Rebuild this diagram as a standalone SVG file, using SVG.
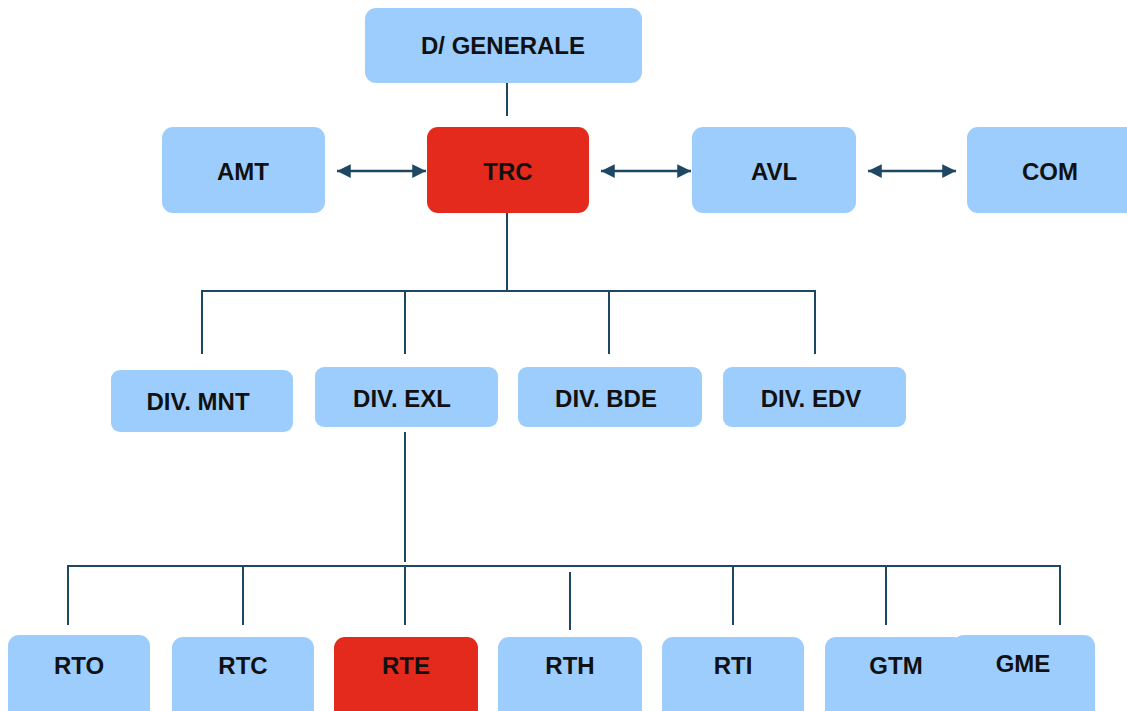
<svg xmlns="http://www.w3.org/2000/svg" width="1127" height="711" viewBox="0 0 1127 711">
  <style>
    .box { fill: #9dcdfd; }
    .hot { fill: #e32a1c; }
    .lbl { font-family: "Liberation Sans", Arial, sans-serif; font-weight: bold; font-size: 24px; fill: #111; text-anchor: middle; }
    .wire { stroke: #1d4763; stroke-width: 2; fill: none; }
    .link { stroke: #1d4763; stroke-width: 2.5; fill: none; marker-start: url(#head); marker-end: url(#head); }
  </style>
  <defs>
    <marker id="head" viewBox="0 0 10 10" refX="10" refY="5" markerWidth="6" markerHeight="5.5" orient="auto-start-reverse" markerUnits="strokeWidth">
      <path d="M0,0 L10,5 L0,10 Z" fill="#1d4763"/>
    </marker>
  </defs>

  <!-- connectors -->
  <g id="connectors">
    <line class="wire" x1="507" y1="83" x2="507" y2="116"/>
    <line class="link" x1="337" y1="171" x2="426" y2="171"/>
    <line class="link" x1="601" y1="171" x2="691" y2="171"/>
    <line class="link" x1="868" y1="171" x2="956" y2="171"/>
    <!-- TRC to divisions -->
    <line class="wire" x1="507" y1="213" x2="507" y2="291"/>
    <line class="wire" x1="202" y1="291" x2="815" y2="291"/>
    <line class="wire" x1="202" y1="290" x2="202" y2="354"/>
    <line class="wire" x1="405" y1="290" x2="405" y2="354"/>
    <line class="wire" x1="609" y1="290" x2="609" y2="354"/>
    <line class="wire" x1="815" y1="290" x2="815" y2="354"/>
    <!-- DIV. EXL to units -->
    <line class="wire" x1="405" y1="432" x2="405" y2="562"/>
    <line class="wire" x1="68" y1="566" x2="1060" y2="566"/>
    <line class="wire" x1="68" y1="565" x2="68" y2="625"/>
    <line class="wire" x1="243" y1="565" x2="243" y2="625"/>
    <line class="wire" x1="405" y1="565" x2="405" y2="625"/>
    <line class="wire" x1="570" y1="572" x2="570" y2="630"/>
    <line class="wire" x1="733" y1="565" x2="733" y2="625"/>
    <line class="wire" x1="886" y1="565" x2="886" y2="625"/>
    <line class="wire" x1="1060" y1="565" x2="1060" y2="625"/>
  </g>

  <g id="n-dg"><rect class="box" x="365" y="8" width="277" height="75" rx="11"/><text class="lbl" x="503" y="54">D/ GENERALE</text></g>
  <g id="n-amt"><rect class="box" x="162" y="127" width="163" height="86" rx="11"/><text class="lbl" x="243" y="180">AMT</text></g>
  <g id="n-trc"><rect class="hot" x="427" y="127" width="162" height="86" rx="11"/><text class="lbl" x="508" y="180">TRC</text></g>
  <g id="n-avl"><rect class="box" x="692" y="127" width="164" height="86" rx="11"/><text class="lbl" x="774" y="180">AVL</text></g>
  <g id="n-com"><rect class="box" x="967" y="127" width="175" height="86" rx="11"/><text class="lbl" x="1050" y="180">COM</text></g>

  <g id="n-mnt"><rect class="box" x="111" y="370" width="182" height="62" rx="9"/><text class="lbl" x="198" y="410">DIV. MNT</text></g>
  <g id="n-exl"><rect class="box" x="315" y="367" width="183" height="60" rx="9"/><text class="lbl" x="402" y="407">DIV. EXL</text></g>
  <g id="n-bde"><rect class="box" x="518" y="367" width="184" height="60" rx="9"/><text class="lbl" x="606" y="407">DIV. BDE</text></g>
  <g id="n-edv"><rect class="box" x="723" y="367" width="183" height="60" rx="9"/><text class="lbl" x="811" y="407">DIV. EDV</text></g>

  <g id="n-rto"><rect class="box" x="8" y="635" width="142" height="90" rx="11"/><text class="lbl" x="79" y="674">RTO</text></g>
  <g id="n-rtc"><rect class="box" x="172" y="637" width="142" height="90" rx="11"/><text class="lbl" x="243" y="674">RTC</text></g>
  <g id="n-rte"><rect class="hot" x="334" y="637" width="144" height="90" rx="11"/><text class="lbl" x="406" y="674">RTE</text></g>
  <g id="n-rth"><rect class="box" x="498" y="637" width="144" height="90" rx="11"/><text class="lbl" x="570" y="674">RTH</text></g>
  <g id="n-rti"><rect class="box" x="662" y="637" width="142" height="90" rx="11"/><text class="lbl" x="733" y="674">RTI</text></g>
  <g id="n-gtm"><rect class="box" x="825" y="637" width="140" height="90" rx="11"/><text class="lbl" x="896" y="674">GTM</text></g>
  <g id="n-gme"><rect class="box" x="953" y="635" width="142" height="90" rx="11"/><text class="lbl" x="1023" y="672">GME</text></g>
</svg>
